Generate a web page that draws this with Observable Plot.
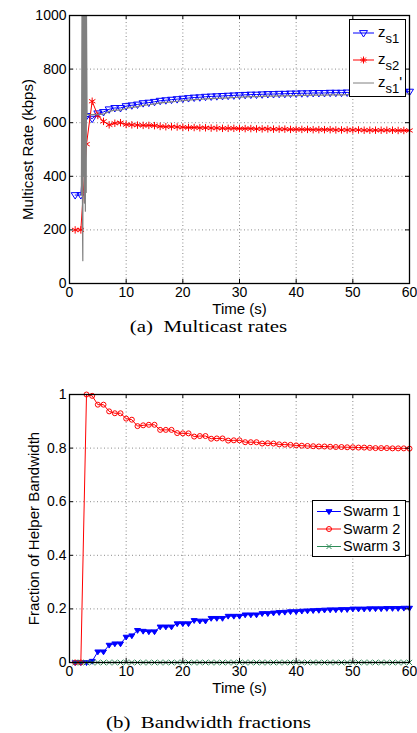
<!DOCTYPE html>
<html>
<head>
<meta charset="utf-8">
<script src="https://cdn.jsdelivr.net/npm/d3@7"></script>
<script src="https://cdn.jsdelivr.net/npm/@observablehq/plot@0.6"></script>
<style>
  body { margin: 0; background: white; }
  #wrap { position: relative; width: 417px; height: 733px; background: white; font-family: 'Liberation Sans', Arial, sans-serif; overflow: hidden; }
  .pl { position: absolute; left: 0; }
  .cap { position: absolute; left: 0; width: 417px; text-align: center; font-family: 'Liberation Serif', 'Times New Roman', serif; font-size: 17px; line-height: 20px; transform: scaleX(1.23); white-space: pre; }
  .leg { position: absolute; border: 1.2px solid black; background: white; box-sizing: border-box; }
  .leg svg { position: absolute; left: 0; top: 0; }
  .lt { position: absolute; white-space: pre; color: black; }
</style>
</head>
<body>
<div id="wrap">
  <div id="p1" class="pl" style="top:0"></div>
  <div id="p2" class="pl" style="top:380px"></div>
  <div class="cap" style="top:316.5px">(a)  Multicast rates</div>
  <div class="cap" style="top:712.5px">(b)  Bandwidth fractions</div>
  <div id="leg1" class="leg" style="left:349px;top:19px;width:57px;height:78px"></div>
  <div id="leg2" class="leg" style="left:312px;top:500px;width:94px;height:57px"></div>
</div>
<script>
// ---------- data ----------
const times = [1,2,3,4,5,6,7,8,9,10,11,12,13,14,15,16,17,18,19,20,21,22,23,24,25,26,27,28,29,30,
  31,32,33,34,35,36,37,38,39,40,41,42,43,44,45,46,47,48,49,50,51,52,53,54,55,56,57,58,59,60];

// (a) multicast rates (kbps)
const zs1 = [330,330,625,615,635,640,650,655,655,662,665,668,673,675,678,682,684,686,688,690,
  692,694,695,697,698,699,700,701,702,703,704,705,705,706,707,707,708,708,709,709,
  710,710,711,711,711,712,712,712,713,713,713,714,714,714,714,715,715,715,715,716];
const zs2 = [200,200,520,680,627,605,592,598,600,593,592,591,590,590,589,586,585,585,584,583,
  582,582,581,581,580,580,579,579,579,578,578,578,577,577,577,576,576,576,575,575,
  575,575,574,574,574,574,573,573,573,573,573,572,572,572,572,572,572,571,571,571];
const zs1pTimes = [2.1,2.2,2.3,2.35,2.4,2.5,2.55,2.65,2.7,2.8,2.85,2.95,3.0,3.1,
  4,5,6,7,8,9,10,11,12,13,14,15,16,17,18,19,20,21,22,23,24,25,26,27,28,29,30,
  31,32,33,34,35,36,37,38,39,40,41,42,43,44,45,46,47,48,49,50,51,52,53,54,55,56,57,58,59,60];
const zs1pValues = [330,1000,200,85,1000,400,1000,300,1000,270,1000,340,1000,630,
  630,630,632,642,647,647,654,657,660,665,667,670,674,676,678,680,682,684,686,687,689,690,691,692,693,694,695,
  696,697,697,698,699,699,700,700,701,701,702,702,703,703,703,704,704,704,705,705,705,706,706,706,706,707,707,707,707,708];

// (b) bandwidth fractions
const swarm1 = [0,0,0,0.005,0.04,0.04,0.065,0.07,0.07,0.095,0.1,0.12,0.117,0.115,0.115,0.133,0.133,0.133,0.145,0.145,
  0.145,0.157,0.155,0.155,0.165,0.165,0.165,0.173,0.173,0.173,0.178,0.178,0.178,0.183,0.183,0.185,0.187,0.188,0.19,0.19,
  0.192,0.193,0.194,0.195,0.196,0.197,0.197,0.198,0.198,0.2,0.2,0.2,0.201,0.201,0.201,0.202,0.202,0.202,0.203,0.203];
const swarm2 = [0,0,1.0,0.995,0.962,0.962,0.937,0.93,0.93,0.91,0.906,0.882,0.885,0.887,0.887,0.868,0.868,0.868,0.856,0.855,
  0.855,0.843,0.845,0.845,0.835,0.836,0.836,0.828,0.829,0.829,0.822,0.822,0.822,0.817,0.818,0.817,0.814,0.813,0.812,0.81,
  0.809,0.808,0.807,0.806,0.806,0.805,0.804,0.804,0.803,0.803,0.802,0.802,0.801,0.8,0.8,0.8,0.799,0.799,0.799,0.798];
const swarm3 = [0,0,0,0,0,0,0,0,0,0,0,0,0,0,0,0,0,0,0,0,0,0,0,0,0,0,0,0,0,0,
  0,0,0,0,0,0,0,0,0,0,0,0,0,0,0,0,0,0,0,0,0,0,0,0,0,0,0,0,0,0];

const xTicks = [0,10,20,30,40,50,60];
const yTicksA = [0,200,400,600,800,1000];
const yTicksB = [0,0.2,0.4,0.6,0.8,1];
const xLabel = "Time (s)";
const yLabelA = "Multicast Rate (kbps)";
const yLabelB = "Fraction of Helper Bandwidth";

// ---------- helpers ----------
const triDown = {
  draw(ctx, size) {
    const r = Math.sqrt(size / Math.PI);
    ctx.moveTo(-r, -0.6 * r);
    ctx.lineTo(r, -0.6 * r);
    ctx.lineTo(0, r);
    ctx.closePath();
  }
};
const toRows = (xs, ys) => xs.map((t, i) => ({t, v: ys[i]}));
const gridStyle = {stroke: "#8a8a8a", strokeOpacity: 1, strokeWidth: 1, strokeDasharray: "1,2.5"};
const style = {fontFamily: "'Liberation Sans', Arial, sans-serif", fontSize: "14px", color: "black", background: "white", overflow: "visible"};

function frameMarks(yTicks, yMax, yTickLen, yLabel, yLabelDx, xLabelDy) {
  return [
    Plot.ruleX(xTicks, {x: d => d, y1: 0, y2: yTickLen, stroke: "black"}),
    Plot.ruleX(xTicks, {x: d => d, y1: yMax - yTickLen, y2: yMax, stroke: "black"}),
    Plot.ruleY(yTicks, {y: d => d, x1: 0, x2: 0.7, stroke: "black"}),
    Plot.ruleY(yTicks, {y: d => d, x1: 59.3, x2: 60, stroke: "black"}),
    Plot.frame({stroke: "black", strokeWidth: 1.3}),
    Plot.axisX({ticks: xTicks, tickSize: 0, tickPadding: 4, label: null, tickFormat: d => String(d)}),
    Plot.axisY({ticks: yTicks, tickSize: 0, tickPadding: 3, label: null, tickFormat: d => String(d)}),
    Plot.text([xLabel], {frameAnchor: "bottom", dy: xLabelDy, lineAnchor: "top", textAnchor: "middle", text: d => d, fontSize: 15}),
    Plot.text([yLabel], {frameAnchor: "left", dx: yLabelDx, rotate: -90, textAnchor: "middle", lineAnchor: "middle", text: d => d, fontSize: 15})
  ];
}

// ---------- chart (a) ----------
const a1 = toRows(times, zs1), a2 = toRows(times, zs2), a3 = toRows(zs1pTimes, zs1pValues);
const chartA = Plot.plot({
  width: 417, height: 320,
  marginLeft: 69, marginRight: 8, marginTop: 15, marginBottom: 37,
  x: {domain: [0, 60]}, y: {domain: [0, 1000]},
  style,
  marks: [
    Plot.gridX({ticks: xTicks, ...gridStyle}),
    Plot.gridY({ticks: yTicksA, ...gridStyle}),
    Plot.line(a1, {x: "t", y: "v", stroke: "blue", strokeWidth: 1}),
    Plot.dot(a1, {x: "t", y: "v", symbol: triDown, r: 4, stroke: "blue", fill: "none", strokeWidth: 1}),
    Plot.line(a2, {x: "t", y: "v", stroke: "red", strokeWidth: 1}),
    Plot.dot(a2, {x: "t", y: "v", symbol: "asterisk", r: 3.5, stroke: "red", strokeWidth: 1}),
    Plot.line(a3, {x: "t", y: "v", stroke: "#808080", strokeWidth: 1.2, clip: true}),
    ...frameMarks(yTicksA, 1000, 15, yLabelA, -41.5, 20)
  ]
});
document.getElementById("p1").append(chartA);

// ---------- chart (b) ----------
const b1 = toRows(times, swarm1), b2 = toRows(times, swarm2), b3 = toRows(times, swarm3);
const chartB = Plot.plot({
  width: 417, height: 320,
  marginLeft: 69, marginRight: 8, marginTop: 14, marginBottom: 38,
  x: {domain: [0, 60]}, y: {domain: [0, 1]},
  style,
  marks: [
    Plot.gridX({ticks: xTicks, ...gridStyle}),
    Plot.gridY({ticks: yTicksB, ...gridStyle}),
    Plot.line(b1, {x: "t", y: "v", stroke: "blue", strokeWidth: 1}),
    Plot.dot(b1, {x: "t", y: "v", symbol: triDown, r: 3, stroke: "blue", fill: "blue", strokeWidth: 1}),
    Plot.line(b2, {x: "t", y: "v", stroke: "red", strokeWidth: 1}),
    Plot.dot(b2, {x: "t", y: "v", symbol: "circle", r: 2.5, stroke: "red", fill: "none", strokeWidth: 1}),
    Plot.line(b3, {x: "t", y: "v", stroke: "#2e8b57", strokeWidth: 1}),
    Plot.dot(b3, {x: "t", y: "v", symbol: "times", r: 2.5, stroke: "#2e8b57", strokeWidth: 1}),
    ...frameMarks(yTicksB, 1, 0.015, yLabelB, -35.5, 20)
  ]
});
document.getElementById("p2").append(chartB);

// ---------- legends (HTML) ----------
const NS = "http://www.w3.org/2000/svg";
function swatchSvg(w, h, rows) {
  const svg = document.createElementNS(NS, "svg");
  svg.setAttribute("width", w); svg.setAttribute("height", h);
  for (const r of rows) {
    const ln = document.createElementNS(NS, "line");
    ln.setAttribute("x1", r.x1); ln.setAttribute("x2", r.x2);
    ln.setAttribute("y1", r.y); ln.setAttribute("y2", r.y);
    ln.setAttribute("stroke", r.color); ln.setAttribute("stroke-width", r.lw || 1);
    svg.append(ln);
    if (r.marker) {
      const p = document.createElementNS(NS, "path");
      const cx = (r.x1 + r.x2) / 2, cy = r.y, s = r.size;
      let d = "";
      if (r.marker === "tri") d = `M${cx - s},${cy - 0.6 * s}L${cx + s},${cy - 0.6 * s}L${cx},${cy + s}Z`;
      if (r.marker === "circle") d = `M${cx + s},${cy}A${s},${s},0,1,1,${cx - s},${cy}A${s},${s},0,1,1,${cx + s},${cy}`;
      if (r.marker === "times") d = `M${cx - s},${cy - s}L${cx + s},${cy + s}M${cx - s},${cy + s}L${cx + s},${cy - s}`;
      if (r.marker === "ast") {
        for (let k = 0; k < 4; k++) {
          const an = k * Math.PI / 4;
          d += `M${cx - s * Math.cos(an)},${cy - s * Math.sin(an)}L${cx + s * Math.cos(an)},${cy + s * Math.sin(an)}`;
        }
      }
      p.setAttribute("d", d);
      p.setAttribute("stroke", r.color);
      p.setAttribute("fill", r.fill || "none");
      p.setAttribute("stroke-width", 1);
      svg.append(p);
    }
  }
  return svg;
}

const leg1 = document.getElementById("leg1");
leg1.append(swatchSvg(56, 78, [
  {x1: 3, x2: 24, y: 13, color: "blue", marker: "tri", size: 4},
  {x1: 3, x2: 24, y: 40, color: "red", marker: "ast", size: 3.5},
  {x1: 3, x2: 24, y: 63, color: "#808080"}
]));
const legAText = [
  {y: 13, html: "z<sub style=\"font-size:13px;vertical-align:-6px\">s1</sub>"},
  {y: 40, html: "z<sub style=\"font-size:13px;vertical-align:-6px\">s2</sub>"},
  {y: 63, html: "z<sub style=\"font-size:13px;vertical-align:-6px\">s1</sub>'"}
];
for (const t of legAText) {
  const d = document.createElement("div");
  d.className = "lt";
  d.style.left = "28px"; d.style.top = (t.y - 9) + "px";
  d.style.fontSize = "15px"; d.style.lineHeight = "15px";
  d.innerHTML = t.html;
  leg1.append(d);
}

const leg2 = document.getElementById("leg2");
leg2.append(swatchSvg(93, 57, [
  {x1: 4, x2: 28, y: 10.5, color: "blue", marker: "tri", size: 3, fill: "blue"},
  {x1: 4, x2: 28, y: 28, color: "red", marker: "circle", size: 2.5},
  {x1: 4, x2: 28, y: 45.5, color: "#2e8b57", marker: "times", size: 2.5}
]));
const legBNames = ["Swarm 1", "Swarm 2", "Swarm 3"];
const legBY = [10.5, 28, 45.5];
legBNames.forEach((name, i) => {
  const d = document.createElement("div");
  d.className = "lt";
  d.style.left = "30px"; d.style.top = (legBY[i] - 7.5) + "px";
  d.style.fontSize = "14.5px"; d.style.lineHeight = "14.5px";
  d.textContent = name;
  leg2.append(d);
});
</script>
</body>
</html>
